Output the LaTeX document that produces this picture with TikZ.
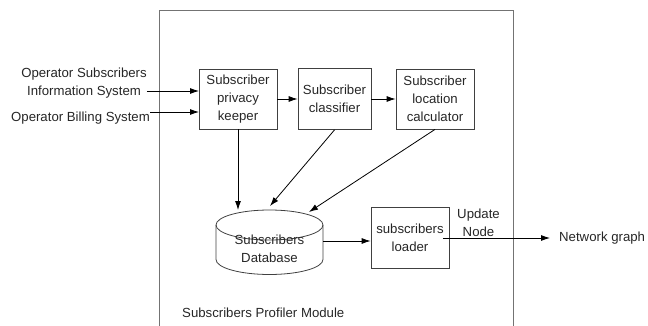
\documentclass[tikz,border=0pt]{standalone}
\usepackage{fontspec}
\setmainfont{Liberation Sans}
\usetikzlibrary{arrows.meta}
\tikzset{
	box/.style={draw=black!75, line width=0.8pt, minimum width=78pt, minimum height=60pt, align=center, inner sep=1pt},
	arr/.style={-{Latex[length=9pt,width=6pt]}, line width=0.8pt},
	lbl/.style={align=center, inner sep=0pt},
}
\begin{document}
\begin{tikzpicture}[x=1pt,y=-1pt,font=\fontsize{13.2}{18}\selectfont,text=black!85]
		\useasboundingbox (0,0) rectangle (648,326);
		% module frame
		\draw[black!55, line width=0.8pt] (159,326) -- (159,10) -- (513,10) -- (513,326);
		\node[box] (keeper) at (238,99) {Subscriber\\privacy\\keeper};
		\node[box, minimum width=73pt, minimum height=61pt] (classifier) at (334.5,99) {Subscriber\\classifier};
		\node[box] (locator) at (435,99) {Subscriber\\location\\calculator};
		\node[box, minimum height=61pt] (loader) at (410,237.5) {subscribers\\loader};
		% database
		\draw[black!75, line width=0.8pt] (216,225) -- (216,259.5) arc[start angle=180, end angle=360, x radius=53.5pt, y radius=15pt] -- (323,225);
		\draw[black!75, line width=0.8pt] (269.5,225) ellipse [x radius=53.5pt, y radius=15pt];
		\node[lbl] (db) at (269.5,249) {Subscribers\\Database};
		\coordinate (dbin1) at (238,210);
		\coordinate (dbin2) at (270,206);
		\coordinate (dbin3) at (309,212);
		\coordinate (dbout) at (323,241);
		% inputs
		\node[lbl] (osis) at (84,83) {Operator Subscribers\\Information System};
		\node[lbl, anchor=east] (obs) at (150,118) {Operator Billing System};
		\coordinate (in1) at (199,91);
		\coordinate (in2) at (199,112);
		\draw[arr] (osis.east |- in1) -- (in1);
		\draw[arr] (obs.east |- in2) -- (in2);
		\foreach \a/\b in {keeper/classifier, classifier/locator}{
			\draw[arr] (\a) -- (\b);
		}
		\foreach \n/\c in {keeper/dbin1, classifier/dbin2, locator/dbin3}{
			\draw[arr] (\n.south) -- (\c);
		}
		\draw[arr] (dbout) -- (dbout -| loader.west);
		% output
		\node[lbl] (update) at (478.5,222.5) {Update\\Node};
		\node[lbl, inner xsep=9pt, anchor=west] (net) at (550,238) {Network graph};
		\coordinate (feed) at (443,238);
		\draw[arr] (feed) -- (net.west);
		\node[lbl, anchor=west] (module) at (182,313) {Subscribers Profiler Module};
	\end{tikzpicture}
\end{document}
